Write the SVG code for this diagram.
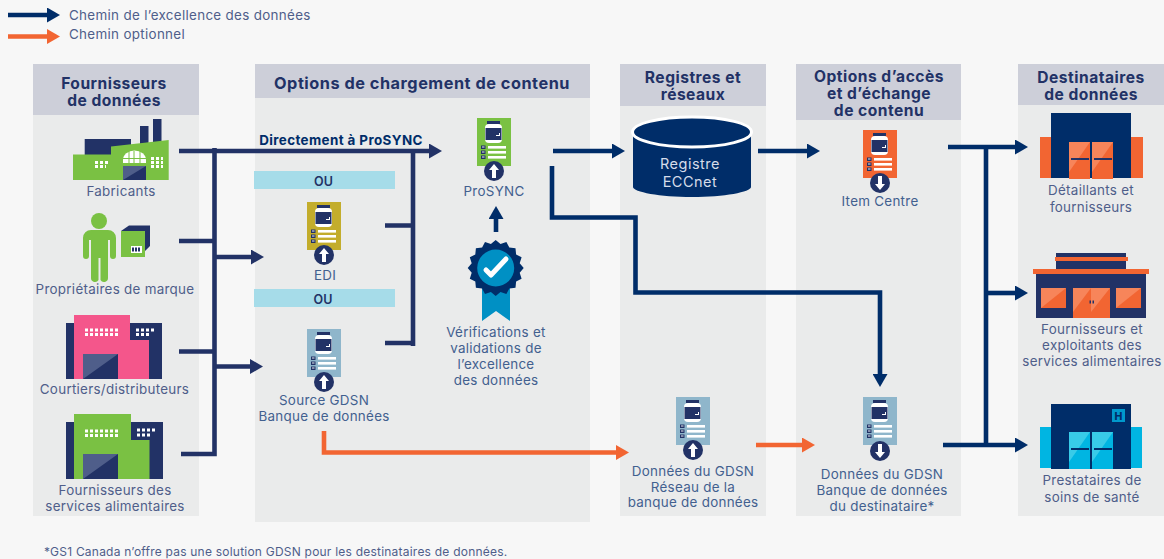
<svg xmlns="http://www.w3.org/2000/svg" xmlns:xlink="http://www.w3.org/1999/xlink" width="1164" height="559" viewBox="0 0 1164 559">
<style>
text{font-family:Inter,"Liberation Sans",sans-serif}
.h{font-size:15.6px;font-weight:700;fill:#223266;text-anchor:middle;letter-spacing:.48px}
.l{font-size:13.4px;fill:#4f5e8a;text-anchor:middle;letter-spacing:.28px}
.b{fill:#42608f}
.ou{font-size:12.5px;font-weight:600;fill:#223266;text-anchor:middle}
.body{fill:#eaebeb}.head{fill:#cdcfd9}
.nl{fill:none;stroke:#223266;stroke-width:4.6}
.nr{fill:none;stroke:#002d69;stroke-width:4.6}
.or{fill:none;stroke:#f26532;stroke-width:4.6}
.navy{fill:#223266}.deep{fill:#002d69}.gr{fill:#7ac143}.og{fill:#f26532}.lo{fill:#f7855a}.shade{fill:#4f5e8a}
.dots{stroke:#fff;stroke-width:3;stroke-dasharray:3 2;fill:none}
</style>
<defs>
<marker id="aL" viewBox="0 0 13 15" refX="1" refY="7.5" markerWidth="13" markerHeight="15" markerUnits="userSpaceOnUse" orient="auto"><path d="M0 0L13 7.5L0 15Z" fill="#223266"/></marker>
<marker id="aR" viewBox="0 0 13 15" refX="1" refY="7.5" markerWidth="13" markerHeight="15" markerUnits="userSpaceOnUse" orient="auto"><path d="M0 0L13 7.5L0 15Z" fill="#002d69"/></marker>
<marker id="aO" viewBox="0 0 13 15" refX="1" refY="7.5" markerWidth="13" markerHeight="15" markerUnits="userSpaceOnUse" orient="auto"><path d="M0 0L13 7.5L0 15Z" fill="#f26532"/></marker>
<g id="jar">
<rect x="10" y="3" width="13" height="3" class="navy"/>
<rect x="8" y="6" width="17" height="19" rx="4" fill="#fff"/>
<rect x="8.5" y="10" width="16" height="12" class="navy"/>
<path d="M19 17.5h4M22.5 15v2.5" stroke="#fff" stroke-width="1" fill="none"/>
<rect x="11" y="28" width="18" height="2.6" fill="#fff"/><rect x="11" y="33" width="18" height="2.6" fill="#fff"/><rect x="11" y="38" width="18" height="2.6" fill="#fff"/>
<rect x="4" y="27.500" width="4.500" height="3.500" class="navy"/><rect x="4" y="32.500" width="4.500" height="3.500" class="navy"/><rect x="4" y="37.500" width="4.500" height="3.500" class="navy"/>
<path d="M5 29h2.500M5 34h2.500M5 39h2.500" stroke="#fff" stroke-width=".9"/>
</g>
<g id="up"><circle r="10" class="navy"/><path d="M0-7L5-1H2V7H-2V-1H-5Z" fill="#fff"/></g>
<g id="down"><circle r="10" class="navy"/><path d="M0 7L5 1H2V-7H-2V1H-5Z" fill="#fff"/></g>
</defs>
<rect width="1164" height="559" fill="#f7f7f7"/>

<g id="legend">
<path d="M8 15H48" class="nr" marker-end="url(#aR)"/>
<path d="M8 36.500H48" class="or" marker-end="url(#aO)"/>
<text x="69" y="20" class="l" style="text-anchor:start;letter-spacing:.32px">Chemin de l’excellence des données</text>
<text x="69" y="39" class="l" style="text-anchor:start;letter-spacing:.32px">Chemin optionnel</text>
</g>

<g id="panel-fournisseurs"><rect x="33" y="64" width="166" height="452" class="body"/><rect x="33" y="64" width="166" height="51" class="head"/>
<text x="114" y="89" class="h">Fournisseurs</text><text x="114" y="106" class="h">de données</text></g>
<g id="panel-options"><rect x="255" y="64" width="335" height="458" class="body"/><rect x="255" y="64" width="335" height="34" class="head"/>
<text x="422" y="89" class="h" style="font-size:16.300px;letter-spacing:.52px">Options de chargement de contenu</text></g>
<g id="panel-registres"><rect x="620" y="64" width="146" height="452" class="body"/><rect x="620" y="64" width="146" height="42" class="head"/>
<text x="693" y="82.500" class="h">Registres et</text><text x="693" y="99.500" class="h">réseaux</text></g>
<g id="panel-acces"><rect x="796" y="64" width="165" height="452" class="body"/><rect x="796" y="64" width="165" height="56" class="head"/>
<text x="879" y="82" class="h">Options d’accès</text><text x="879" y="99" class="h">et d’échange</text><text x="879" y="116" class="h">de contenu</text></g>
<g id="panel-destinataires"><rect x="1018" y="64" width="146" height="452" class="body"/><rect x="1018" y="64" width="146" height="41" class="head"/>
<text x="1091" y="82.500" class="h">Destinataires</text><text x="1091" y="99.500" class="h">de données</text></g>

<g id="ou-1"><rect x="254" y="171" width="141" height="18" fill="#a6dce9"/><text x="323.500" y="185.500" class="ou">OU</text></g>
<g id="ou-2"><rect x="254" y="289" width="141" height="18" fill="#a6dce9"/><text x="323" y="303.500" class="ou">OU</text></g>

<g id="connectors">
<path d="M179 151H430" class="nl" marker-end="url(#aL)"/>
<path d="M214.500 148V454H181" class="nl"/>
<path d="M179 241H214M179 351.500H214" class="nl"/>
<path d="M216 257H252" class="nl" marker-end="url(#aL)"/>
<path d="M216 366.500H251" class="nl" marker-end="url(#aL)"/>
<path d="M385 225.500H413M385 343H413M413 149V346" class="nl"/>
<path d="M496 232V218" class="nr" marker-end="url(#aR)"/>
<path d="M553 151H613" class="nr" marker-end="url(#aR)"/>
<path d="M552 166V217.500H635.500V292.500H880V375" class="nr" marker-end="url(#aR)"/>
<path d="M758 151H808" class="nr" marker-end="url(#aR)"/>
<path d="M948 147H1016" class="nr" marker-end="url(#aR)"/>
<path d="M986 147V445" class="nr"/>
<path d="M986 293H1016" class="nr" marker-end="url(#aR)"/>
<path d="M943 445H1016" class="nr" marker-end="url(#aR)"/>
<path d="M324 431V452.500H617" class="or" marker-end="url(#aO)"/>
<path d="M756 445H803" class="or" marker-end="url(#aO)"/>
</g>

<g id="fabricants">
<rect x="140" y="126" width="8.500" height="22" class="navy"/><rect x="153" y="119" width="8.500" height="24" class="navy"/>
<rect x="84.700" y="139" width="46.300" height="17" class="navy"/>
<path d="M73 154.500H111V146.500L168.700 140V180H73Z" class="gr"/>
<path d="M95 162.500H110M95 166.500H106" class="dots"/>
<path d="M151 158.500H163M151 162.500H163M151 166.500H163" class="dots"/>
<path d="M123 163V160A11 9 0 0 1 146 160V163Z" fill="#fff"/>
<path d="M129 151V163M134 151V163M140 151V163M123 158.500H146" stroke="#7ac143" stroke-width="1"/>
<path d="M123 166H146V180H123Z" class="navy"/><path d="M123 166H146L123 180Z" class="shade"/>
<text x="121" y="196" class="l">Fabricants</text>
</g>

<g id="proprietaires">
<circle cx="99" cy="221" r="8" class="gr"/>
<path d="M83 238A8 8 0 0 1 91 230H108A8 8 0 0 1 116 238V256A3 3 0 0 1 110 256V240H108V278A4 4 0 0 1 100.500 280V258H98.500V280A4 4 0 0 1 91 278V240H89V256A3 3 0 0 1 83 256Z" class="gr"/>
<path d="M121 231L129 225.500H150V246L145 251V231Z" class="navy"/>
<rect x="121" y="231" width="24" height="26" class="gr"/>
<rect x="131" y="246" width="11" height="7" fill="#fff"/><path d="M133 247.500V251.500M136 247.500V251.500M139 247.500V251.500" stroke="#223266" stroke-width="2"/>
<text x="115" y="294" class="l">Propriétaires de marque</text>
</g>

<g id="courtiers">
<rect x="66" y="323" width="96" height="56" class="navy"/>
<path d="M74 315H130V340H149V379H74Z" fill="#f4568b"/>
<path d="M85 330H118M85 334.500H118" class="dots"/>
<path d="M136 330H154M136 334.500H150" class="dots"/>
<rect x="83" y="354" width="35" height="25" class="navy"/><path d="M83 354H118L83 379Z" class="shade"/>
<text x="114.500" y="394" class="l">Courtiers/distributeurs</text>
</g>

<g id="services">
<rect x="66" y="422" width="97" height="57" class="navy"/>
<path d="M74 414H131V440H149.500V479H74Z" class="gr"/>
<path d="M85 431H118M85 435.500H118" class="dots"/>
<path d="M137 430H155M137 435H151" class="dots"/>
<rect x="83" y="454" width="35" height="25" class="navy"/><path d="M83 454H118L83 479Z" class="shade"/>
<text x="115" y="495" class="l">Fournisseurs des</text><text x="115" y="511" class="l">services alimentaires</text>
</g>

<g id="edi"><rect x="307" y="202" width="34" height="48" fill="#c3ad2c"/><use href="#jar" x="307" y="202"/><use href="#up" x="324" y="255"/>
<text x="325" y="280" class="l b">EDI</text></g>

<g id="source-gdsn"><rect x="307" y="329" width="34" height="48" fill="#8fb6cb"/><use href="#jar" x="307" y="329"/><use href="#up" x="324" y="382"/>
<text x="324" y="405" class="l b">Source GDSN</text><text x="324" y="421" class="l b">Banque de données</text></g>

<g id="prosync"><rect x="477" y="118" width="34" height="48" class="gr"/><use href="#jar" x="477" y="118"/><use href="#up" x="494" y="171"/>
<text x="494" y="196" class="l b">ProSYNC</text></g>

<text x="341" y="145" style="font-size:13.400px;font-weight:700;fill:#002d69;text-anchor:middle;letter-spacing:.4px">Directement à ProSYNC</text>

<g id="verifications">
<path d="M482 280H510V321L496 311L482 321Z" fill="#0090c4"/>
<polygon transform="translate(495.700 268)" class="deep" points="28,0 24,4.800 25.900,10.700 20.400,13.600 19.800,19.800 13.600,20.400 10.700,25.900 4.800,24 0,28 -4.800,24 -10.700,25.900 -13.600,20.400 -19.800,19.800 -20.400,13.600 -25.900,10.700 -24,4.800 -28,0 -24,-4.800 -25.900,-10.700 -20.400,-13.600 -19.800,-19.800 -13.600,-20.400 -10.700,-25.900 -4.800,-24 0,-28 4.800,-24 10.700,-25.900 13.600,-20.400 19.800,-19.800 20.400,-13.600 25.900,-10.700 24,-4.800"/>
<circle cx="495.700" cy="268" r="18.500" fill="#0090c4"/>
<path d="M486 270L491 275L506 259" fill="none" stroke="#fff" stroke-width="5" stroke-linecap="round" stroke-linejoin="round"/>
<text x="496" y="337" class="l b">Vérifications et</text><text x="496" y="353" class="l b">validations de</text><text x="496" y="368.500" class="l b">l’excellence</text><text x="496" y="384.500" class="l b">des données</text>
</g>

<g id="registre">
<path d="M633 132V187C633 192 660 197 692 197S751 192 751 187V132Z" class="deep"/>
<ellipse cx="692" cy="132" rx="59.500" ry="15" class="deep" stroke="#fff" stroke-width="3"/>
<text x="690" y="169" style="font-size:14.500px;fill:#d5dcea;text-anchor:middle;letter-spacing:.5px">Registre</text><text x="690" y="187" style="font-size:14.500px;fill:#d5dcea;text-anchor:middle;letter-spacing:.5px">ECCnet</text>
</g>

<g id="gdsn-reseau"><rect x="676" y="397" width="34" height="48" fill="#8fb6cb"/><use href="#jar" x="676" y="397"/><use href="#up" x="693" y="450"/>
<text x="693" y="476" class="l b">Données du GDSN</text><text x="693" y="491.500" class="l b">Réseau de la</text><text x="693" y="507" class="l b">banque de données</text></g>

<g id="item-centre"><rect x="863" y="130" width="34" height="48" class="og"/><use href="#jar" x="863" y="130"/><use href="#down" x="880" y="183"/>
<text x="880" y="206" class="l b">Item Centre</text></g>

<g id="gdsn-destinataire"><rect x="863" y="397" width="34" height="48" fill="#8fb6cb"/><use href="#jar" x="863" y="397"/><use href="#down" x="880" y="451"/>
<text x="882" y="479" class="l b">Données du GDSN</text><text x="882" y="495" class="l b">Banque de données</text><text x="882" y="510.500" class="l b">du destinataire*</text></g>

<g id="detaillants">
<rect x="1040" y="137" width="103" height="41" class="og"/>
<rect x="1051" y="113" width="80" height="65" class="deep"/>
<rect x="1069" y="142" width="21" height="37" class="og"/><path d="M1069 142H1090L1069 172Z" class="lo"/>
<rect x="1092" y="142" width="21" height="37" class="og"/><path d="M1092 142H1113L1092 172Z" class="lo"/>
<path d="M1071 159H1089M1094 159H1112" stroke="#223266" stroke-width="1.800"/>
<text x="1091" y="195" class="l">Détaillants et</text><text x="1091" y="212" class="l">fournisseurs</text>
</g>

<g id="fournisseurs-exploitants">
<rect x="1056" y="253" width="70" height="17" class="navy"/>
<rect x="1055" y="257" width="73" height="4" class="og"/>
<rect x="1036" y="274" width="110" height="44" class="navy"/>
<rect x="1033" y="269" width="116" height="5" class="og"/>
<rect x="1041" y="288" width="25" height="20" class="og"/><path d="M1041 288H1066L1041 308Z" class="lo"/>
<rect x="1116" y="288" width="25" height="20" class="og"/><path d="M1116 288H1141L1116 308Z" class="lo"/>
<rect x="1073" y="288" width="37" height="30" class="og"/><path d="M1073 288H1091L1073 312ZM1091 288H1110L1091 312Z" class="lo"/>
<path d="M1089.500 302H1091M1092.500 302H1094" stroke="#223266" stroke-width="3"/>
<text x="1092" y="334" class="l">Fournisseurs et</text><text x="1092" y="350" class="l">exploitants des</text><text x="1092" y="366" class="l">services alimentaires</text>
</g>

<g id="prestataires">
<rect x="1040" y="427" width="102" height="41" fill="#00b5e2"/>
<rect x="1051" y="404" width="80" height="65" class="deep"/>
<rect x="1069" y="432" width="21" height="37" fill="#00b5e2"/><path d="M1069 432H1090L1069 462Z" fill="#38cbe8"/>
<rect x="1092" y="432" width="21" height="37" fill="#00b5e2"/><path d="M1092 432H1113L1092 462Z" fill="#38cbe8"/>
<path d="M1071 449H1089M1094 449H1112" stroke="#002d69" stroke-width="1.800"/>
<rect x="1112" y="409" width="13" height="13" fill="#0099cc"/>
<text x="1118.500" y="420" style="font-size:10.500px;font-weight:800;fill:#002d69;text-anchor:middle">H</text>
<text x="1092" y="485" class="l">Prestataires de</text><text x="1092" y="502" class="l">soins de santé</text>
</g>

<text x="44" y="556" style="font-size:12px;fill:#4f5e8a;letter-spacing:.22px">*GS1 Canada n’offre pas une solution GDSN pour les destinataires de données.</text>
</svg>
